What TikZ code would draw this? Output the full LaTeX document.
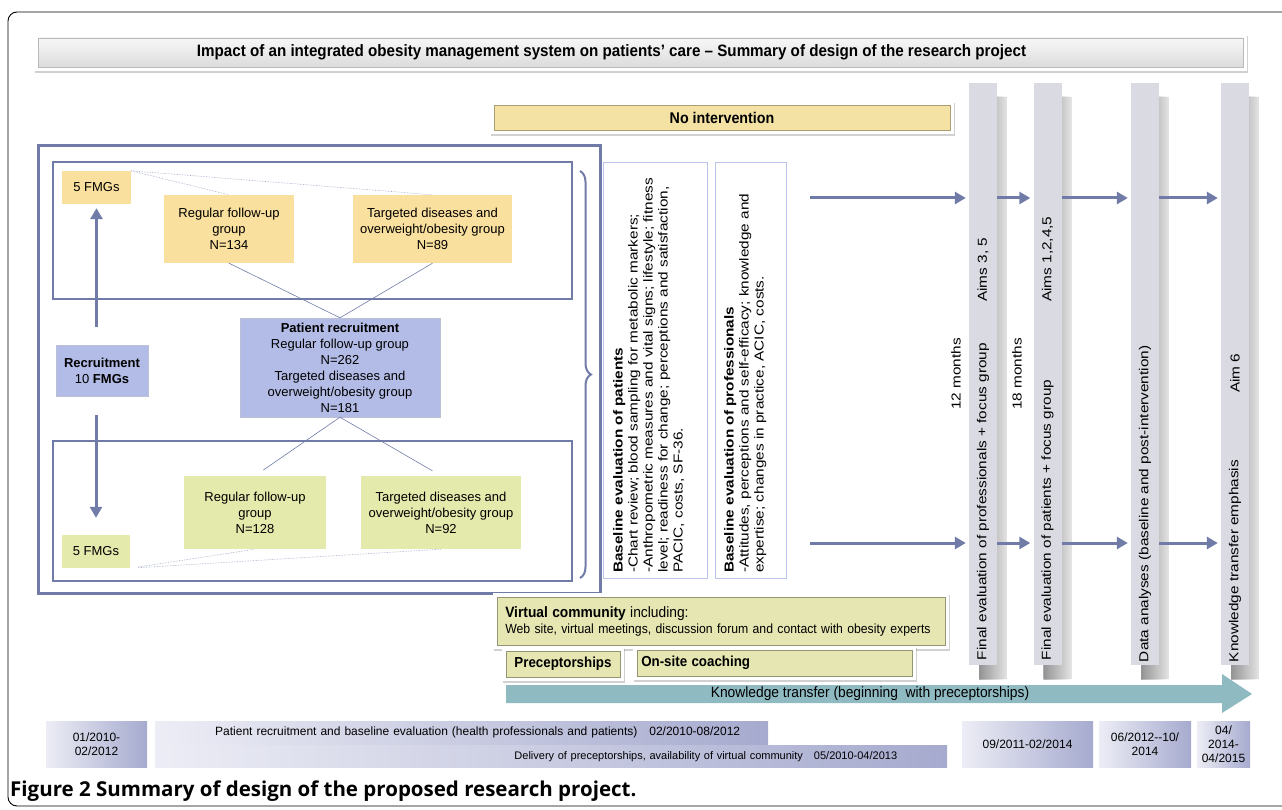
\documentclass[tikz,border=0pt]{standalone}
\usepackage{fontspec}
\setmainfont{Liberation Sans}
\newfontfamily\narrowfont{Liberation Sans}[FakeStretch=0.92]
\newfontfamily\widefont{Liberation Sans}[FakeStretch=1.18]
\newfontfamily\capfont{Open Sans}
\usetikzlibrary{arrows.meta,shadows,decorations.pathreplacing,positioning}

\definecolor{frameblue}{RGB}{112,123,168}
\definecolor{orangefill}{RGB}{250,224,158}
\definecolor{greenfill}{RGB}{228,233,172}
\definecolor{recblue}{RGB}{179,188,230}
\definecolor{nointfill}{RGB}{243,226,164}
\definecolor{olivefill}{RGB}{229,230,178}
\definecolor{ktfill}{RGB}{143,186,194}
\definecolor{barfill}{RGB}{217,218,226}
\definecolor{timeleft}{RGB}{236,237,245}
\definecolor{timeright}{RGB}{166,170,206}
\definecolor{panelline}{RGB}{186,196,236}

\begin{document}
\begin{tikzpicture}[x=1pt,y=-1pt,>={Triangle[length=11pt,width=12pt]},
    font=\fontsize{13}{16}\selectfont,inner sep=0pt]
  \tikzstyle{group}=[align=center]
  \tikzstyle{topgroup}=[group,fill=orangefill]
  \tikzstyle{botgroup}=[group,fill=greenfill]
  \tikzstyle{bluegroup}=[group,fill=recblue,draw=recblue!80!black!60]
  \tikzstyle{link}=[draw=frameblue,line width=0.6pt]
  \tikzstyle{dots}=[draw=frameblue!70,densely dotted,line width=0.6pt]
  \tikzstyle{flow}=[draw=frameblue,line width=3pt,->,shorten >=3pt]
  \tikzstyle{bevel}=[drop shadow={opacity=0.3,shadow xshift=1pt,shadow yshift=-2pt,draw=black!60,line width=8pt},
                     preaction={draw=white,line width=8pt}]
  \tikzstyle{panel}=[draw=panelline,line width=0.6pt,fill=white]
  \tikzstyle{evalbar}=[fill=barfill,minimum width=28pt,minimum height=582pt,
                       drop shadow={opacity=0.7,shadow xshift=10pt,shadow yshift=-14pt,left color=black!45,right color=white}]
  \tikzstyle{vtext}=[rotate=90,font=\widefont\fontsize{13}{15}\selectfont]
  \tikzstyle{timebox}=[left color=timeleft,right color=timeright,align=center,
                       font=\fontsize{12}{14}\selectfont]

  \useasboundingbox (0,0) rectangle (1282,810);
  \draw[line width=0.9pt,rounded corners=9pt] (1282,12) -- (8,12) -- (8,806) -- (1282,806);

  % heading bars
  \node[bevel,top color=gray!6,bottom color=gray!28,draw=gray!55,line width=0.5pt,
        minimum width=1205pt,minimum height=29pt] (title) at (640.5,52.5)
    {\narrowfont\fontsize{16.5}{18}\selectfont\bfseries Impact of an integrated obesity management system on patients’ care – Summary of design of the research project\hspace*{58pt}};
  \node[bevel,fill=nointfill,draw=nointfill!70!black,line width=0.5pt,
        minimum width=456pt,minimum height=25pt] (noint) at (722,118)
    {\narrowfont\fontsize{15.5}{17}\selectfont\bfseries No intervention};

  % recruitment
  \draw[frameblue,line width=3pt] (38,146) rectangle (600,593);
  \draw[frameblue,line width=2pt] (53,162) rectangle (572,299);
  \draw[frameblue,line width=2pt] (53,441) rectangle (572,581);
  \draw[frameblue,line width=2pt,decorate,decoration={brace,amplitude=11pt}] (580,171) -- (580,578);

  \node[topgroup,minimum width=69pt,minimum height=33pt] (fmgtop) at (96.5,187.5) {5 FMGs};
  \node[topgroup,minimum width=130pt,minimum height=68pt] (regtop) at (229,229) {Regular follow-up\\group\\N=134};
  \node[topgroup,minimum width=159pt,minimum height=68pt] (tgttop) at (432.5,229) {Targeted diseases and\\overweight/obesity group\\N=89};
  \node[bluegroup,minimum width=200pt,minimum height=99pt] (patrec) at (340,367.5)
    {\textbf{Patient recruitment}\\Regular follow-up group\\N=262\\Targeted diseases and\\overweight/obesity group\\N=181};
  \node[bluegroup,minimum width=92pt,minimum height=51pt] (recruit) at (102,370.5) {\textbf{Recruitment}\\10 \textbf{FMGs}};
  \node[botgroup,minimum width=142pt,minimum height=73pt] (regbot) at (255,512.5) {Regular follow-up\\group\\N=128};
  \node[botgroup,minimum width=160pt,minimum height=73pt] (tgtbot) at (441,512.5) {Targeted diseases and\\overweight/obesity group\\N=92};
  \node[botgroup,minimum width=68pt,minimum height=33pt] (fmgbot) at (96,551.5) {5 FMGs};

  \draw[link] (regtop.south) -- (patrec.north);
  \draw[link] (tgttop.south) -- (patrec.north);
  \draw[link,shorten >=10pt] (patrec.south) -- (regbot.north);
  \draw[link,shorten >=10pt] (patrec.south) -- (tgtbot.north);
  \draw[dots] (fmgtop.north east) -- (regtop.north);
  \draw[dots] (fmgtop.north east) -- (tgttop.north);
  \draw[dots,shorten <=8pt] (fmgbot.south east) -- (regbot.south);
  \draw[dots,shorten <=8pt] (fmgbot.south east) -- (tgtbot.south);
  \draw[flow,shorten >=4pt] ([yshift=18pt]recruit.north -| fmgtop.south) -- (fmgtop.south);
  \draw[flow,shorten >=17pt] ([yshift=-19pt]recruit.south -| fmgbot.north) -- (fmgbot.north);

  % baseline evaluation
  \node[panel,minimum width=104pt,minimum height=416pt] (patpanel) at (655,370) {};
  \node[panel,minimum width=71pt,minimum height=416pt,right=8pt of patpanel] (propanel) {};
  \node[vtext,anchor=north west,align=left] (pattext) at (613,573)
    {\textbf{Baseline evaluation of patients}\\-Chart review; blood sampling for metabolic markers;\\-Anthropometric measures and vital signs; lifestyle; fitness\\level; readiness for change; perceptions and satisfaction,\\PACIC, costs, SF-36.};
  \node[vtext,anchor=north west,align=left] (protext) at (724,573)
    {\textbf{Baseline evaluation of professionals}\\-Attitudes, perceptions and self-efficacy; knowledge and\\expertise; changes in practice, ACIC, costs.};

  % evaluation bars
  \foreach \bx/\bn in {983/bar1,1047.5/bar2,1145/bar3,1235/bar4}
    \node[evalbar] (\bn) at (\bx,374) {};
  \node[vtext,anchor=west] at ([yshift=5pt]bar1.south) {Final evaluation of professionals + focus group};
  \node[vtext,anchor=west] at ([yshift=72pt]bar1.center) {Aims 3, 5};
  \node[vtext,anchor=west] at ([yshift=5pt]bar2.south) {Final evaluation of patients + focus group};
  \node[vtext,anchor=west] at ([yshift=72pt]bar2.center) {Aims 1,2,4,5};
  \node[vtext,anchor=west] at ([yshift=3pt]bar3.south) {Data analyses (baseline and post-intervention)};
  \node[vtext,anchor=west] at ([yshift=3pt]bar4.south) {Knowledge transfer emphasis};
  \node[vtext,anchor=west] at ([yshift=-19pt]bar4.center) {Aim 6};
  \node[vtext,anchor=west] at ([xshift=-27pt,yshift=-36pt]bar1.center) {12 months};
  \node[vtext,anchor=west] at ([xshift=-30.5pt,yshift=-36pt]bar2.center) {18 months};

  \coordinate (upflow) at (810,198);
  \coordinate (lowflow) at (810,543);
  \foreach \row in {upflow,lowflow} {
    \draw[flow] (\row) -- (\row -| bar1.west);
    \draw[flow] (\row -| bar1.east) -- (\row -| bar2.west);
    \draw[flow] (\row -| bar2.east) -- (\row -| bar3.west);
    \draw[flow] (\row -| bar3.east) -- (\row -| bar4.west);
  }

  % knowledge transfer
  \node[bevel,fill=olivefill,draw=olivefill!65!black,line width=0.5pt,align=left,
        text width=432pt,minimum height=48pt,inner xsep=8pt,anchor=north west] (virtual) at (497,597)
    {\narrowfont\fontsize{15}{17}\selectfont\textbf{Virtual community} including:\\
     \fontsize{13.3}{16}\selectfont Web site, virtual meetings, discussion forum and contact with obesity experts};
  \node[bevel,fill=olivefill,draw=olivefill!65!black,line width=0.5pt,
        minimum width=114pt,minimum height=26pt] (precept) at (563,664) {\narrowfont\fontsize{14.5}{16}\selectfont\bfseries Preceptorships};
  \node[bevel,fill=olivefill,draw=olivefill!65!black,line width=0.5pt,align=left,
        text width=267pt,inner xsep=4pt,minimum height=26pt,anchor=west] (coach) at (637,663) {\narrowfont\fontsize{14.5}{16}\selectfont\bfseries On-site coaching};
  \fill[ktfill] (506,685) -- (1222,685) -- (1222,674) -- (1252,694) -- (1222,713) -- (1222,703) -- (506,703) -- cycle;
  \node (ktlabel) at (870,694) {\narrowfont\fontsize{15}{16}\selectfont Knowledge transfer (beginning\ \ with preceptorships)};

  % time line
  \node[timebox,minimum width=101pt,minimum height=46pt] (t1) at (96.5,744) {01/2010-\\02/2012};
  \node[timebox,anchor=north west,text width=557pt,inner xsep=28pt,align=right,minimum height=23pt] (t2) at (155,721)
    {Patient recruitment and baseline evaluation (health professionals and patients)\ \ \ 02/2010-08/2012};
  \node[timebox,anchor=north west,text width=692pt,inner xsep=50pt,align=right,minimum height=22pt,
        font=\fontsize{11}{13}\selectfont] (t3) at (155,745)
    {Delivery of preceptorships, availability of virtual community\ \ \ 05/2010-04/2013};
  \node[timebox,minimum width=131pt,minimum height=46pt] (t4) at (1027.5,744) {09/2011-02/2014};
  \node[timebox,minimum width=92pt,minimum height=46pt] (t5) at (1145,744) {06/2012-{}-10/\\2014};
  \node[timebox,minimum width=53pt,minimum height=46pt] (t6) at (1223.5,744) {04/\\2014-\\04/2015};

  \node[anchor=west] (caption) at (10,791)
    {\capfont\fontsize{20.5}{22}\selectfont\textbf{Figure 2} \textbf{Summary of design of the proposed research project.}};
\end{tikzpicture}
\end{document}
